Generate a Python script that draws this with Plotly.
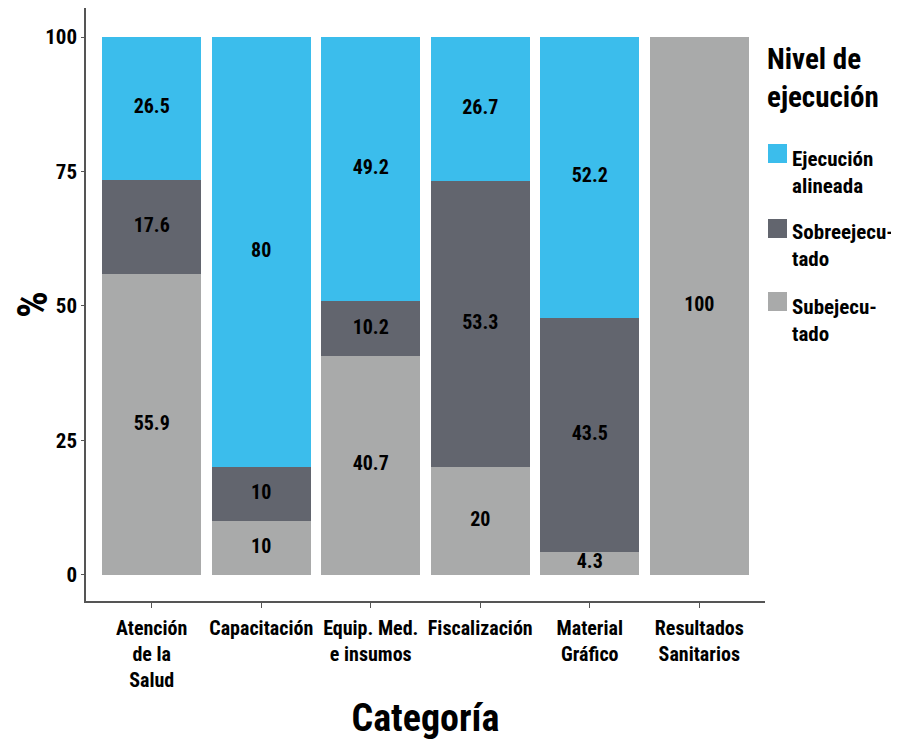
import plotly.graph_objects as go

categories = ["Atención<br>de la<br>Salud", "Capacitación", "Equip. Med.<br>e insumos",
              "Fiscalización", "Material<br>Gráfico", "Resultados<br>Sanitarios"]
subejecutado = [55.9, 10, 40.7, 20, 4.3, 100]
sobreejecutado = [17.6, 10, 10.2, 53.3, 43.5, 0]
alineada = [26.5, 80, 49.2, 26.7, 52.2, 0]

series = [
    ("Subejecu-<br>tado", subejecutado, "#A9AAAA"),
    ("Sobreejecu-<br>tado", sobreejecutado, "#62656E"),
    ("Ejecución<br>alineada", alineada, "#3BBDEC"),
]
legend_title = "Nivel de<br>ejecución"

FONT = "Roboto Condensed, Liberation Sans Narrow, DejaVu Sans Condensed, sans-serif"

# layout geometry (figure pixels; page body adds an 8px offset)
W, H = 891, 735
ML, MR, MT, MB = 78, 134, 0, 142
PW, PH = W - ML - MR, H - MT - MB


def px(x):   # screen x -> paper
    return (x - 8 - ML) / PW


def py(y):   # screen y -> paper
    return (H - MB + 8 - y) / PH


fig = go.Figure()
base = [0.0] * len(categories)
lab_x, lab_y, lab_t = [], [], []
for name, vals, color in series:
    fig.add_trace(go.Bar(
        x=categories, y=vals, name=name,
        marker=dict(color=color, line=dict(width=0)),
        width=0.9, showlegend=False, hoverinfo="skip",
    ))
    for i, v in enumerate(vals):
        if v > 0:
            lab_x.append(categories[i])
            lab_y.append(base[i] + v / 2)
            lab_t.append("%g" % v)
        base[i] += v

fig.add_trace(go.Scatter(
    x=lab_x, y=lab_y, text=lab_t, mode="text", showlegend=False, hoverinfo="skip",
    textfont=dict(family=FONT, size=20, color="black", weight="bold"),
))

# manual legend
annotations = [dict(
    text=legend_title, xref="paper", yref="paper", x=px(765), y=py(78),
    xanchor="left", yanchor="middle", align="left", showarrow=False,
    font=dict(family=FONT, size=29, color="black", weight="bold"),
)]
shapes = []
item_centers = [172, 246, 320]
sw_tops = [144, 219, 292]
for (name, vals, color), yc, st in zip(reversed(series), item_centers, sw_tops):
    shapes.append(dict(type="rect", xref="paper", yref="paper",
                       x0=px(768), x1=px(787), y0=py(st + 19), y1=py(st),
                       fillcolor=color, line=dict(width=0)))
    annotations.append(dict(
        text=name, xref="paper", yref="paper", x=px(790), y=py(yc),
        xanchor="left", yanchor="middle", align="left", showarrow=False,
        font=dict(family=FONT, size=21, color="black", weight="bold"),
    ))

fig.update_layout(
    barmode="stack",
    width=W, height=H,
    margin=dict(l=ML, r=MR, t=MT, b=MB, autoexpand=False),
    plot_bgcolor="white", paper_bgcolor="white",
    font=dict(family=FONT, color="black", weight="bold"),
    showlegend=False,
    annotations=annotations,
    shapes=shapes,
    xaxis=dict(
        range=[-0.6, 5.6],
        showline=True, linecolor="#555555", linewidth=1.5,
        ticks="outside", ticklen=5, tickcolor="#555555",
        tickfont=dict(family=FONT, size=20, weight="bold"),
        ticklabelstandoff=3,
        title=dict(text="Categoría", font=dict(family=FONT, size=38, weight="bold"), standoff=14),
        showgrid=False,
    ),
    yaxis=dict(
        range=[-4.85, 105.4],
        tickvals=[0, 25, 50, 75, 100],
        showline=True, linecolor="#555555", linewidth=1.5,
        ticks="outside", ticklen=3, tickcolor="#555555",
        tickfont=dict(family=FONT, size=21, weight="bold"),
        title=dict(text="%", font=dict(family=FONT, size=42, weight="bold"), standoff=4),
        showgrid=False, zeroline=False,
    ),
)

fig.write_html("out.html")
